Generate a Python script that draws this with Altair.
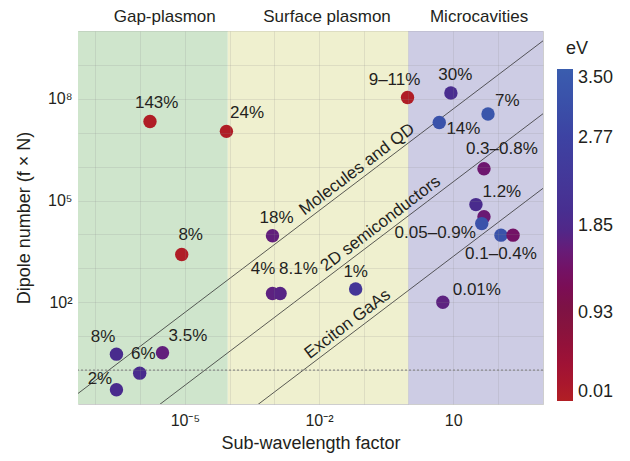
import altair as alt
import pandas as pd

FONT = "Liberation Sans"
TXT = "#231f20"

# ---- data (exponents) ----
pt_x_exp = [-5.78, -4.07, -0.02, 0.95, 1.78, 0.69, 1.69, 1.51, 1.69, 1.64, 2.07, 2.34,
            -1.18, 0.77, -3.04, -5.07, -3.04, -2.87, -6.53, -5.50, -6.01, -6.53]
pt_y_exp = [7.33, 7.04, 8.04, 8.17, 7.55, 7.30, 5.94, 4.88, 4.52, 4.32, 3.98, 3.98,
            2.39, 2.00, 3.96, 3.41, 2.26, 2.26, 0.47, 0.51, -0.09, -0.58]
pt_ev = [0.05, 0.05, 0.05, 1.95, 3.3, 3.2, 1.5, 1.9, 1.55, 3.2, 3.2, 1.4,
         2.3, 1.7, 1.65, 0.05, 1.7, 1.75, 1.9, 1.65, 1.9, 1.9]

lab_text = ["143%", "24%", "9–11%", "30%", "7%", "14%", "0.3–0.8%", "1.2%", "0.05–0.9%",
            "0.1–0.4%", "1%", "0.01%", "18%", "8%", "4%", "8.1%", "8%", "3.5%", "6%", "2%"]
lab_x_exp = [-5.63, -3.61, -0.31, 1.05, 2.21, 1.23, 2.09, 2.09, 0.60,
             2.07, -1.18, 1.53, -2.95, -4.87, -3.25, -2.46, -6.83, -4.93, -5.93, -6.90]
lab_y_exp = [7.88, 7.59, 8.56, 8.71, 7.95, 7.10, 6.53, 5.26, 4.03,
             3.42, 2.90, 2.36, 4.50, 3.98, 2.99, 2.99, 0.99, 1.00, 0.47, -0.26]

band_names = ["Gap-plasmon", "Surface plasmon", "Microcavities"]
band_start_exp = [-7.39, -4.04, 0.0]
band_end_exp = [-4.04, 0.0, 3.01]
band_label_exp = [-5.45, -1.82, 1.58]
band_colors = ["#cfe5cc", "#eff0cf", "#cdcce4"]

line_names = ["Molecules and QD", "2D semiconductors", "Exciton GaAs"]
line_offset_exp = [6.7, 4.55, 2.35]          # log10(y) = log10(x) + offset
line_label_x_exp = [-1.15, -0.62, -1.36]
line_label_y_exp = [5.92, 4.32, 1.36]

ev_stops = [0.01, 0.93, 1.85, 2.77, 3.50]
ev_colors = ["#b21f24", "#7d1540", "#4a2a8c", "#3d42a2", "#3a5dae"]

x_tick_exp = [-5, -2, 1]
x_tick_labels = ["10⁻⁵", "10⁻²", "10"]
y_tick_exp = [2, 5, 8]
y_tick_labels = ["10²", "10⁵", "10⁸"]

X_MIN, X_MAX = -7.39, 3.01
Y_MIN, Y_MAX = -1.0, 10.0
W, H = 465, 373

# ---- tables ----
pts = pd.DataFrame({"x": [10 ** v for v in pt_x_exp], "y": [10 ** v for v in pt_y_exp], "ev": pt_ev})
labs = pd.DataFrame({"t": lab_text, "x": [10 ** v for v in lab_x_exp], "y": [10 ** v for v in lab_y_exp]})
bands = pd.DataFrame({"name": band_names, "x": [10 ** v for v in band_start_exp],
                      "x2": [10 ** v for v in band_end_exp], "lx": [10 ** v for v in band_label_exp]})
lines = pd.DataFrame({"name": line_names,
                      "x": [10 ** -8.0] * 3, "x2": [10 ** 4.0] * 3,
                      "y": [10 ** (-8.0 + c) for c in line_offset_exp],
                      "y2": [10 ** (4.0 + c) for c in line_offset_exp],
                      "lx": [10 ** v for v in line_label_x_exp],
                      "ly": [10 ** v for v in line_label_y_exp]})
dotted = pd.DataFrame({"y": [1.0]})


def label_expr(exps, labels):
    parts = [f"abs(log(datum.value)/LN10-({e}))<0.01?'{l}':" for e, l in zip(exps, labels)]
    return "".join(parts) + "''"


xscale = alt.Scale(type="log", domain=[10 ** X_MIN, 10 ** X_MAX], nice=False)
yscale = alt.Scale(type="log", domain=[10 ** Y_MIN, 10 ** Y_MAX], nice=False)

x_axis = alt.Axis(title="Sub-wavelength factor", values=[10 ** e for e in range(-7, 4)],
                  labelExpr=label_expr(x_tick_exp, x_tick_labels), ticks=False, domain=False,
                  grid=True, gridColor="#8a8a8a", gridOpacity=0.18, gridWidth=1,
                  labelFontSize=16, labelPadding=8, titleFontSize=18, titlePadding=6,
                  labelFont=FONT, titleFont=FONT, labelColor=TXT, titleColor=TXT,
                  titleFontWeight="normal", zindex=1)
y_axis = alt.Axis(title="Dipole number (f × N)", values=[10 ** e for e in range(-1, 11)],
                  labelExpr=label_expr(y_tick_exp, y_tick_labels), ticks=False, domain=False,
                  grid=True, gridColor="#8a8a8a", gridOpacity=0.18, gridWidth=1,
                  labelFontSize=16, labelPadding=6, titleFontSize=18, titlePadding=14,
                  labelFont=FONT, titleFont=FONT, labelColor=TXT, titleColor=TXT,
                  titleFontWeight="normal", zindex=1)

band_layer = alt.Chart(bands).mark_rect(opacity=1).encode(
    x=alt.X("x:Q", scale=xscale, axis=x_axis),
    x2="x2:Q",
    y=alt.value(0), y2=alt.value(H),
    fill=alt.Fill("name:N", scale=alt.Scale(domain=band_names, range=band_colors), legend=None),
)

band_text = alt.Chart(bands).mark_text(font=FONT, fontSize=17, color=TXT, baseline="alphabetic").encode(
    x=alt.X("lx:Q", scale=xscale), y=alt.value(-9.5), text="name:N")

line_layer = alt.Chart(lines).mark_rule(color="#333333", strokeWidth=0.8, clip=True).encode(
    x=alt.X("x:Q", scale=xscale), x2="x2:Q",
    y=alt.Y("y:Q", scale=yscale, axis=y_axis), y2="y2:Q")

line_text = alt.Chart(lines).mark_text(font=FONT, fontSize=17, color=TXT, angle=322.7,
                                       baseline="middle").encode(
    x=alt.X("lx:Q", scale=xscale), y=alt.Y("ly:Q", scale=yscale), text="name:N")

dot_layer = alt.Chart(dotted).mark_rule(color="#777777", strokeDash=[2, 2], strokeWidth=1).encode(
    y=alt.Y("y:Q", scale=yscale))

point_layer = alt.Chart(pts).mark_circle(size=180, opacity=1).encode(
    x=alt.X("x:Q", scale=xscale), y=alt.Y("y:Q", scale=yscale),
    color=alt.Color("ev:Q", scale=alt.Scale(domain=ev_stops, range=ev_colors),
                    legend=alt.Legend(title=None, orient="none", legendX=479, legendY=38,
                                      gradientLength=332, gradientThickness=16,
                                      values=ev_stops, format=".2f", labelFontSize=18,
                                      labelFont=FONT, labelColor=TXT, labelOffset=5,
                                      gradientStrokeWidth=0)))

pct_text = alt.Chart(labs).mark_text(font=FONT, fontSize=17, color=TXT, baseline="middle").encode(
    x=alt.X("x:Q", scale=xscale), y=alt.Y("y:Q", scale=yscale), text="t:N")

ev_title = alt.Chart(pd.DataFrame({"t": ["eV"]})).mark_text(
    font=FONT, fontSize=18, color=TXT, baseline="middle").encode(
    x=alt.value(499), y=alt.value(18), text="t:N")

chart = alt.layer(band_layer, band_text, line_layer, dot_layer, line_text, point_layer,
                  pct_text, ev_title).resolve_scale(fill="independent").properties(
    width=W, height=H,
    autosize=alt.AutoSizeParams(type="none"),
    padding={"left": 70, "top": 23, "right": 78, "bottom": 50},
).configure_view(stroke="#606060", strokeWidth=1.5).configure(background="white")

chart.save("out.html", embed_options={"renderer": "svg", "actions": False})
